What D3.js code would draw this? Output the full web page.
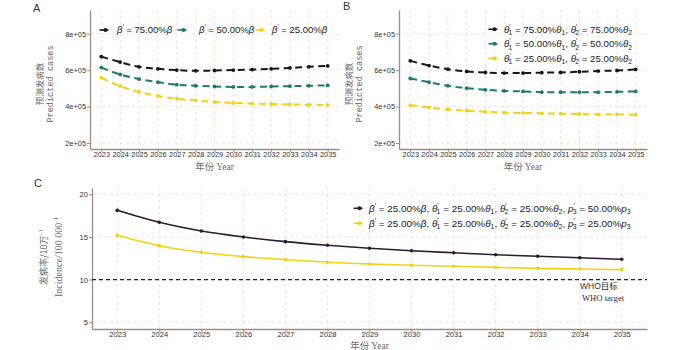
<!DOCTYPE html>
<html><head><meta charset="utf-8">
<script src="https://cdn.jsdelivr.net/npm/d3@7"></script>
<style>
body{margin:0;background:#fff;}
svg{display:block;}
</style>
</head><body>
<svg id="chart" width="700" height="350"></svg>
<script>
const years = [2023,2024,2025,2026,2027,2028,2029,2030,2031,2032,2033,2034,2035];

// Panel A: reduced beta
const aBlack  = [674000,644000,618000,607000,600000,596000,598000,600000,603000,607000,612000,618000,623000];
const aTeal   = [614000,576000,551000,534000,520000,514000,510000,508000,508000,510000,512000,514000,516000];
const aYellow = [558000,512000,480000,458000,443000,434000,425000,420000,416000,414000,412000,410000,409000];

// Panel B: reduced theta1, theta2
const bBlack  = [651000,625000,605000,593000,587000,584000,584000,586000,587000,591000,595000,598000,604000];
const bTeal   = [554000,534000,514000,501000,492000,486000,483000,479000,479000,479000,479000,481000,483000];
const bYellow = [408000,395000,384000,377000,372000,367000,365000,363000,361000,359000,357000,357000,355000];

// Panel C: incidence per 100 000
const cBlack  = [18.12,16.72,15.70,15.00,14.45,14.02,13.67,13.39,13.15,12.92,12.73,12.57,12.38];
const cYellow = [15.19,13.98,13.20,12.69,12.34,12.03,11.83,11.68,11.56,11.44,11.32,11.24,11.17];
const whoTarget = 10;

const yTicksAB = [200000,400000,600000,800000];
const yTickLabelsAB = ["2e+05","4e+05","6e+05","8e+05"];
const yTicksC = [5,10,15,20];

const colBlack = "#1b1423", colTeal = "#1d7a6c", colYellow = "#f0d21c", colCBlack = "#2b1c36";
const gridCol = "#e9dfcf", axisCol = "#9c8f82", tickTxt = "#333", titleCol = "#6a6a6a";

const svg = d3.select("#chart");

function legendText(sel, parts, size){
  let cur = 0;
  parts.forEach(p=>{
    let target = 0, fs = size, fst = null, dx = 0;
    if(p.s==="i"){ fst="italic"; }
    if(p.s==="sup"){ target=-4; fs=size*0.7; }
    if(p.s==="sub"){ target=2.5; fs=size*0.7; dx = p.dx||0; }
    const ts = sel.append("tspan").text(p.t).attr("font-size",fs).attr("dy", target-cur);
    if(dx) ts.attr("dx", dx);
    if(fst) ts.attr("font-style",fst);
    cur = target;
  });
}

function panel(cfg){
  const g = svg.append("g");
  const x = d3.scaleLinear().domain([2022.4,2035.6]).range([cfg.left,cfg.right]);
  const y = d3.scaleLinear().domain(cfg.yDomain).range([cfg.bottom,cfg.top]);
  // grid
  g.selectAll(".vg").data(years).join("line")
    .attr("x1",d=>x(d)).attr("x2",d=>x(d)).attr("y1",cfg.top).attr("y2",cfg.bottom)
    .attr("stroke",gridCol).attr("stroke-width",0.8).attr("stroke-dasharray","3,3");
  g.selectAll(".hg").data(cfg.yTicks).join("line")
    .attr("x1",cfg.left).attr("x2",cfg.right).attr("y1",d=>y(d)).attr("y2",d=>y(d))
    .attr("stroke",gridCol).attr("stroke-width",0.8).attr("stroke-dasharray","3,3");
  // axes
  const xAxis = d3.axisBottom(x).tickValues(years).tickFormat(d=>String(d)).tickSize(3).tickSizeOuter(0);
  const gx = g.append("g").attr("transform",`translate(0,${cfg.bottom})`).call(xAxis);
  const yAxis = d3.axisLeft(y).tickValues(cfg.yTicks).tickFormat((d,i)=>cfg.yLabels[i]).tickSize(3).tickSizeOuter(0);
  const gy = g.append("g").attr("transform",`translate(${cfg.left},0)`).call(yAxis);
  [gx,gy].forEach(a=>{
    a.select(".domain").attr("stroke",axisCol).attr("stroke-width",1.3);
    a.selectAll(".tick line").attr("stroke",axisCol);
    a.selectAll(".tick text").attr("fill",tickTxt).attr("font-family","Liberation Sans, Arial, sans-serif").attr("font-size",cfg.tickFs);
  });
  gx.selectAll(".tick text").attr("y",2.6).attr("dy","0.71em");
  gy.selectAll(".tick text").attr("x",-4);
  // reference line
  if(cfg.hline!==undefined){
    g.append("line").attr("x1",cfg.left).attr("x2",cfg.right)
      .attr("y1",y(cfg.hline)).attr("y2",y(cfg.hline))
      .attr("stroke","#222").attr("stroke-width",1.1).attr("stroke-dasharray","4,3");
  }
  // series
  cfg.series.forEach(s=>{
    const line = d3.line().x((d,i)=>x(years[i])).y(d=>y(d)).curve(d3.curveMonotoneX);
    g.append("path").datum(s.values).attr("d",line).attr("fill","none")
      .attr("stroke",s.color).attr("stroke-width",cfg.lw)
      .attr("stroke-dasharray",cfg.dash||null);
    g.selectAll(null).data(s.values).join("circle")
      .attr("cx",(d,i)=>x(years[i])).attr("cy",d=>y(d)).attr("r",cfg.pr).attr("fill",s.color);
  });
  // x title
  const xt = g.append("text").attr("x",(cfg.left+cfg.right)/2).attr("y",cfg.xTitleY)
    .attr("text-anchor","middle").attr("fill",titleCol).attr("font-size",9.5);
  xt.append("tspan").text("年份 ").attr("font-family","Noto Sans CJK SC");
  xt.append("tspan").text("Year").attr("font-family","Liberation Serif, serif");
  // y title
  const yt = g.append("g").attr("transform",`translate(${cfg.yTitleX},${cfg.yTitleY}) rotate(-90)`);
  yt.append("text").attr("x",0).attr("y",0).attr("text-anchor","middle").attr("fill",titleCol)
    .attr("font-family","Noto Sans CJK SC").attr("font-size",cfg.yTitleFs1).text(cfg.yTitle1);
  const t2 = yt.append("text").attr("x",0).attr("y",cfg.yTitleGap).attr("text-anchor","middle").attr("fill",titleCol)
    .attr("font-family",cfg.yTitle2Font).attr("font-size",cfg.yTitleFs2);
  if(cfg.yTitle2Parts){ legendText(t2,cfg.yTitle2Parts,cfg.yTitleFs2); } else t2.text(cfg.yTitle2);
  // panel letter
  g.append("text").attr("x",cfg.letterX).attr("y",cfg.letterY).text(cfg.letter)
    .attr("font-family","Liberation Sans, Arial, sans-serif").attr("font-size",11).attr("fill","#333");
  // legend
  cfg.legend.forEach(l=>{
    g.append("line").attr("x1",l.mx-4.5).attr("x2",l.mx+4.5).attr("y1",l.y).attr("y2",l.y)
      .attr("stroke",l.color).attr("stroke-width",1.6);
    g.append("circle").attr("cx",l.mx+1.5).attr("cy",l.y).attr("r",2).attr("fill",l.color);
    const t = g.append("text").attr("x",l.tx).attr("y",l.y+3.4).attr("fill","#222")
      .attr("font-family","Liberation Sans, Arial, sans-serif").attr("font-size",cfg.legFs);
    legendText(t,l.parts,cfg.legFs);
  });
  return {x,y,g};
}

const betaParts = pct => [{t:"β",s:"i"},{t:"′",s:"sup"},{t:" = "+pct+"%",s:"n"},{t:"β",s:"i"}];
const thetaParts = pct => [
  {t:"θ",s:"i"},{t:"′",s:"sup"},{t:"1",s:"sub",dx:-2},{t:" = "+pct+"%",s:"n"},{t:"θ",s:"i"},{t:"1",s:"sub"},
  {t:", ",s:"n"},
  {t:"θ",s:"i"},{t:"′",s:"sup"},{t:"2",s:"sub",dx:-2},{t:" = "+pct+"%",s:"n"},{t:"θ",s:"i"},{t:"2",s:"sub"}];
const cParts = pct => [
  {t:"β",s:"i"},{t:"′",s:"sup"},{t:" = 25.00%",s:"n"},{t:"β",s:"i"},{t:", ",s:"n"},
  {t:"θ",s:"i"},{t:"′",s:"sup"},{t:"1",s:"sub",dx:-2},{t:" = 25.00%",s:"n"},{t:"θ",s:"i"},{t:"1",s:"sub"},{t:", ",s:"n"},
  {t:"θ",s:"i"},{t:"′",s:"sup"},{t:"2",s:"sub",dx:-2},{t:" = 25.00%",s:"n"},{t:"θ",s:"i"},{t:"2",s:"sub"},{t:", ",s:"n"},
  {t:"p",s:"i"},{t:"′",s:"sup"},{t:"3",s:"sub",dx:-2},{t:" = "+pct+"%",s:"n"},{t:"p",s:"i"},{t:"3",s:"sub"}];

panel({
  left:90,right:339,top:10,bottom:149,yDomain:[167000,930000],
  yTicks:yTicksAB,yLabels:yTickLabelsAB,tickFs:7.4,lw:2,dash:"7,4.5",pr:1.9,legFs:9.5,
  series:[{values:aBlack,color:colBlack},{values:aTeal,color:colTeal},{values:aYellow,color:colYellow}],
  xTitleY:169.5,yTitleX:43,yTitleY:84,yTitleGap:10,yTitle1:"预测发病数",yTitle2:"Predicted cases",
  yTitle2Font:"Liberation Mono, monospace",yTitleFs1:8.5,yTitleFs2:8.6,
  letter:"A",letterX:33,letterY:12,
  legend:[
    {mx:104,tx:117,y:30,color:colBlack,parts:betaParts("75.00")},
    {mx:182,tx:199,y:30,color:colTeal,parts:betaParts("50.00")},
    {mx:260,tx:272,y:30,color:colYellow,parts:betaParts("25.00")}
  ]
});

panel({
  left:399,right:647,top:10,bottom:149,yDomain:[167000,930000],
  yTicks:yTicksAB,yLabels:yTickLabelsAB,tickFs:7.4,lw:2,dash:"7,4.5",pr:1.9,legFs:9.7,
  series:[{values:bBlack,color:colBlack},{values:bTeal,color:colTeal},{values:bYellow,color:colYellow}],
  xTitleY:169.5,yTitleX:352,yTitleY:84,yTitleGap:10,yTitle1:"预测发病数",yTitle2:"Predicted cases",
  yTitle2Font:"Liberation Mono, monospace",yTitleFs1:8.5,yTitleFs2:8.6,
  letter:"B",letterX:343,letterY:10,
  legend:[
    {mx:493,tx:504,y:29.3,color:colBlack,parts:thetaParts("75.00")},
    {mx:493,tx:504,y:43.8,color:colTeal,parts:thetaParts("50.00")},
    {mx:493,tx:504,y:58.3,color:colYellow,parts:thetaParts("25.00")}
  ]
});

const pc = panel({
  left:92,right:647,top:188,bottom:329,yDomain:[4.21,20.74],
  yTicks:yTicksC,yLabels:yTicksC.map(String),tickFs:7.6,lw:1.6,dash:null,pr:1.8,hline:whoTarget,legFs:9.9,
  series:[{values:cBlack,color:colCBlack},{values:cYellow,color:colYellow}],
  xTitleY:348.5,yTitleX:47,yTitleY:257,yTitleGap:15,yTitle1:"发病率/10万⁻¹",
  yTitle2Parts:[{t:"Incidence/100 000",s:"n"},{t:"-1",s:"sup"}],
  yTitle2Font:"Liberation Serif, serif",yTitleFs1:9,yTitleFs2:10,
  letter:"C",letterX:34,letterY:187,
  legend:[
    {mx:358,tx:369,y:208.3,color:colCBlack,parts:cParts("50.00")},
    {mx:358,tx:369,y:223.3,color:colYellow,parts:cParts("25.00")}
  ]
});

pc.g.append("text").attr("x",580).attr("y",289).text("WHO目标")
  .attr("font-family","Liberation Sans, Noto Sans CJK SC, sans-serif").attr("font-size",8.5).attr("fill","#333");
pc.g.append("text").attr("x",582).attr("y",300.5).text("WHO target")
  .attr("font-family","Liberation Serif, serif").attr("font-size",8.6).attr("fill","#333");
</script>
</body></html>
